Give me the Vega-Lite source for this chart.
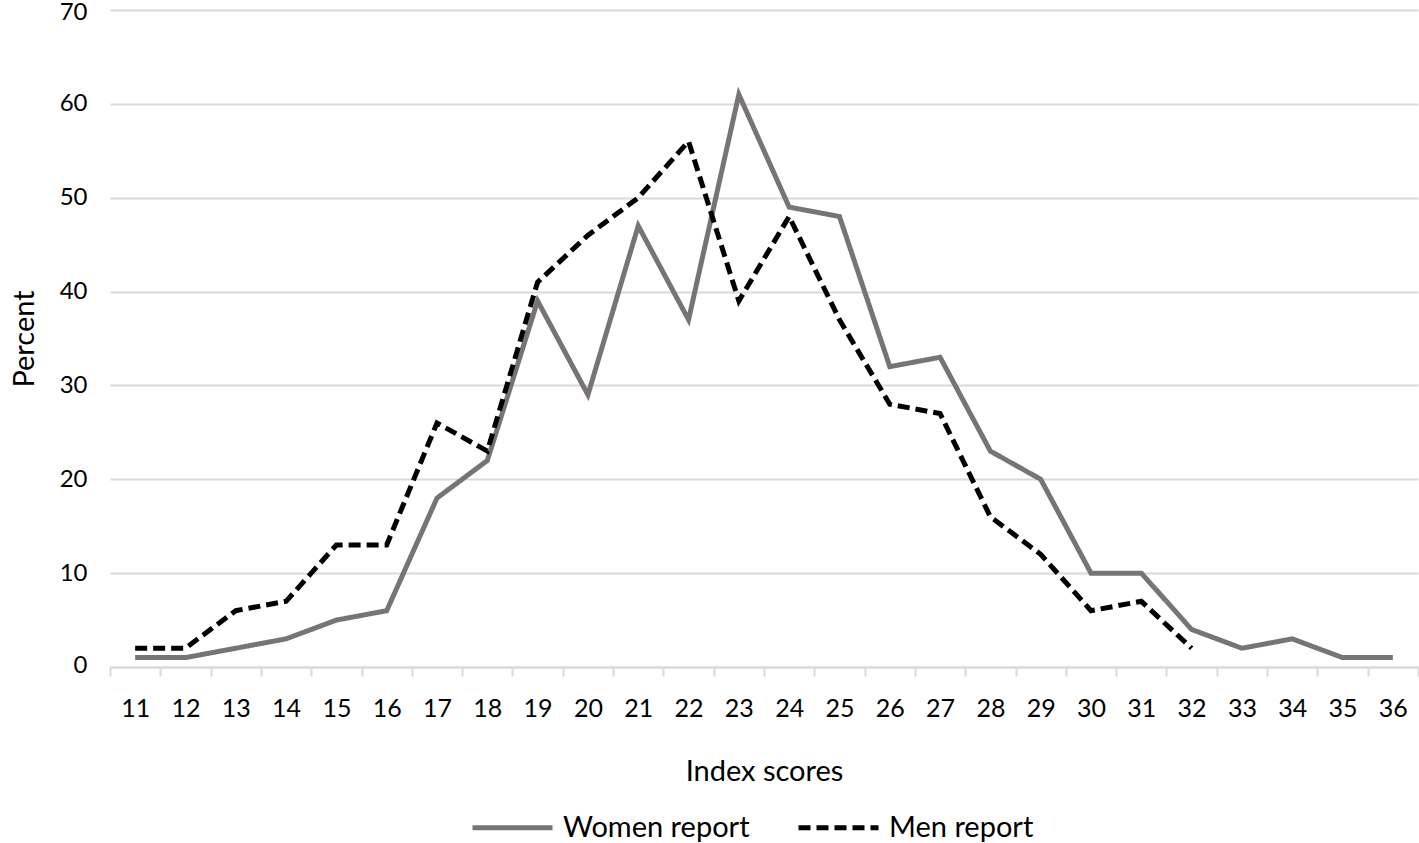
{
  "$schema": "https://vega.github.io/schema/vega-lite/v6.json",
  "width": 1308,
  "height": 657,
  "autosize": {"type": "none"},
  "padding": {"left": 110, "top": 10, "right": 1, "bottom": 176},
  "background": "white",
  "config": {
    "font": "Lato",
    "view": {"stroke": null}
  },
  "data": {
    "values": [
      {"score": 11, "series": "Women report", "pct": 1},
      {"score": 12, "series": "Women report", "pct": 1},
      {"score": 13, "series": "Women report", "pct": 2},
      {"score": 14, "series": "Women report", "pct": 3},
      {"score": 15, "series": "Women report", "pct": 5},
      {"score": 16, "series": "Women report", "pct": 6},
      {"score": 17, "series": "Women report", "pct": 18},
      {"score": 18, "series": "Women report", "pct": 22},
      {"score": 19, "series": "Women report", "pct": 39},
      {"score": 20, "series": "Women report", "pct": 29},
      {"score": 21, "series": "Women report", "pct": 47},
      {"score": 22, "series": "Women report", "pct": 37},
      {"score": 23, "series": "Women report", "pct": 61},
      {"score": 24, "series": "Women report", "pct": 49},
      {"score": 25, "series": "Women report", "pct": 48},
      {"score": 26, "series": "Women report", "pct": 32},
      {"score": 27, "series": "Women report", "pct": 33},
      {"score": 28, "series": "Women report", "pct": 23},
      {"score": 29, "series": "Women report", "pct": 20},
      {"score": 30, "series": "Women report", "pct": 10},
      {"score": 31, "series": "Women report", "pct": 10},
      {"score": 32, "series": "Women report", "pct": 4},
      {"score": 33, "series": "Women report", "pct": 2},
      {"score": 34, "series": "Women report", "pct": 3},
      {"score": 35, "series": "Women report", "pct": 1},
      {"score": 36, "series": "Women report", "pct": 1},
      {"score": 11, "series": "Men report", "pct": 2},
      {"score": 12, "series": "Men report", "pct": 2},
      {"score": 13, "series": "Men report", "pct": 6},
      {"score": 14, "series": "Men report", "pct": 7},
      {"score": 15, "series": "Men report", "pct": 13},
      {"score": 16, "series": "Men report", "pct": 13},
      {"score": 17, "series": "Men report", "pct": 26},
      {"score": 18, "series": "Men report", "pct": 23},
      {"score": 19, "series": "Men report", "pct": 41},
      {"score": 20, "series": "Men report", "pct": 46},
      {"score": 21, "series": "Men report", "pct": 50},
      {"score": 22, "series": "Men report", "pct": 56},
      {"score": 23, "series": "Men report", "pct": 39},
      {"score": 24, "series": "Men report", "pct": 48},
      {"score": 25, "series": "Men report", "pct": 37},
      {"score": 26, "series": "Men report", "pct": 28},
      {"score": 27, "series": "Men report", "pct": 27},
      {"score": 28, "series": "Men report", "pct": 16},
      {"score": 29, "series": "Men report", "pct": 12},
      {"score": 30, "series": "Men report", "pct": 6},
      {"score": 31, "series": "Men report", "pct": 7},
      {"score": 32, "series": "Men report", "pct": 2}
    ]
  },
  "mark": {"type": "line", "strokeWidth": 5, "strokeCap": "butt", "strokeJoin": "miter"},
  "encoding": {
    "x": {
      "field": "score",
      "type": "ordinal",
      "scale": {"type": "band", "paddingInner": 0, "paddingOuter": 0},
      "axis": {
        "title": "Index scores",
        "titleFontSize": 29,
        "titleFontWeight": "normal",
        "titleColor": "#000000",
        "titlePadding": 36,
        "labelFontSize": 25,
        "labelColor": "#000000",
        "labelAngle": 0,
        "labelPadding": 20,
        "tickBand": "extent",
        "tickSize": 9,
        "tickColor": "#d9d9d9",
        "tickWidth": 2,
        "domainColor": "#d9d9d9",
        "domainWidth": 2,
        "grid": false
      }
    },
    "y": {
      "field": "pct",
      "type": "quantitative",
      "scale": {"domain": [0, 70], "nice": false},
      "axis": {
        "title": "Percent",
        "titleFontSize": 29,
        "titleFontWeight": "normal",
        "titleColor": "#000000",
        "titlePadding": 20,
        "labelFontSize": 24,
        "labelColor": "#000000",
        "labelPadding": 23,
        "labelFlush": true,
        "labelFlushOffset": 10,
        "values": [0, 10, 20, 30, 40, 50, 60, 70],
        "tickSize": 0,
        "domain": false,
        "grid": true,
        "gridColor": "#d9d9d9",
        "gridWidth": 2
      }
    },
    "color": {
      "field": "series",
      "type": "nominal",
      "sort": ["Women report", "Men report"],
      "scale": {"domain": ["Women report", "Men report"], "range": ["#787474", "#000000"]},
      "legend": {
        "title": null,
        "orient": "none",
        "legendX": 360,
        "legendY": 775,
        "direction": "horizontal",
        "symbolType": "stroke",
        "symbolStrokeWidth": 5,
        "symbolSize": 6400,
        "labelFontSize": 29,
        "labelColor": "#000000",
        "labelOffset": 8,
        "columnPadding": 38,
        "labelLimit": 400
      }
    },
    "strokeDash": {
      "field": "series",
      "type": "nominal",
      "sort": ["Women report", "Men report"],
      "scale": {"domain": ["Women report", "Men report"], "range": [[1, 0], [12, 6]]},
      "legend": {
        "title": null,
        "orient": "none",
        "legendX": 360,
        "legendY": 775,
        "direction": "horizontal",
        "symbolType": "stroke",
        "symbolStrokeWidth": 5,
        "symbolSize": 6400,
        "labelFontSize": 29,
        "labelColor": "#000000",
        "labelOffset": 8,
        "columnPadding": 38,
        "labelLimit": 400
      }
    },
    "order": {"field": "score", "type": "quantitative"}
  }
}
